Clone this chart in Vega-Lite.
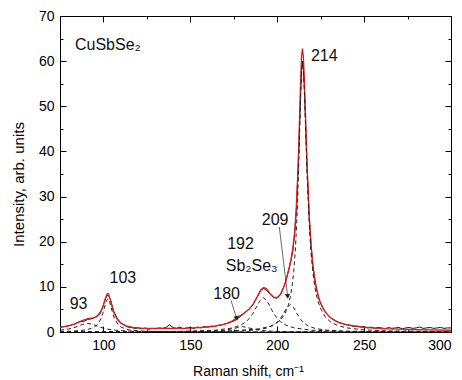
{
  "$schema": "https://vega.github.io/schema/vega-lite/v6.json",
  "autosize": "none",
  "padding": {"left": 60, "top": 16, "right": 11, "bottom": 48},
  "width": 391,
  "height": 316,
  "background": "white",
  "config": {
    "view": {"stroke": "#000", "strokeWidth": 1},
    "font": "Liberation Sans",
    "axis": {"grid": false, "domainColor": "#000", "tickColor": "#000", "labelColor": "#000", "titleColor": "#000", "labelFont": "Liberation Sans", "titleFont": "Liberation Sans", "labelFontSize": 14, "titleFontSize": 14, "titleFontWeight": "normal"}
  },
  "datasets": {
    "meas": [
      {"x":75,"y":1.0},{"x":77,"y":1.2},{"x":79,"y":1.3},{"x":81,"y":1.5},{"x":83,"y":1.7},{"x":85,"y":2.1},{"x":87,"y":2.3},{"x":89,"y":2.4},{"x":91,"y":2.8},{"x":93,"y":2.9},{"x":95,"y":3.2},{"x":97,"y":3.8},{"x":99,"y":5.0},{"x":100,"y":6.0},{"x":101,"y":7.2},{"x":102,"y":8.1},{"x":103,"y":8.0},{"x":104,"y":7.2},{"x":105,"y":5.8},{"x":106,"y":4.5},{"x":108,"y":3.0},{"x":110,"y":2.0},{"x":112,"y":1.5},{"x":114,"y":1.1},{"x":116,"y":1.0},{"x":118,"y":0.8},{"x":120,"y":0.9},{"x":122,"y":0.7},{"x":124,"y":0.9},{"x":126,"y":0.6},{"x":128,"y":0.8},{"x":130,"y":0.7},{"x":132,"y":0.9},{"x":134,"y":0.8},{"x":136,"y":1.0},{"x":138,"y":1.6},{"x":140,"y":1.0},{"x":142,"y":0.8},{"x":144,"y":1.1},{"x":146,"y":0.7},{"x":148,"y":0.9},{"x":150,"y":1.0},{"x":152,"y":0.8},{"x":154,"y":1.1},{"x":156,"y":0.9},{"x":158,"y":1.2},{"x":160,"y":1.1},{"x":162,"y":1.3},{"x":164,"y":1.2},{"x":166,"y":1.5},{"x":168,"y":1.6},{"x":170,"y":1.8},{"x":172,"y":2.0},{"x":174,"y":2.3},{"x":176,"y":2.6},{"x":178,"y":3.2},{"x":180,"y":3.8},{"x":182,"y":4.5},{"x":184,"y":5.2},{"x":186,"y":6.0},{"x":188,"y":7.4},{"x":190,"y":8.8},{"x":191,"y":9.4},{"x":192,"y":9.6},{"x":193,"y":9.5},{"x":194,"y":9.2},{"x":196,"y":8.3},{"x":198,"y":7.6},{"x":200,"y":7.5},{"x":202,"y":8.3},{"x":204,"y":10.2},{"x":205,"y":11.3},{"x":206,"y":12.8},{"x":207,"y":14.2},{"x":208,"y":16.0},{"x":209,"y":18.0},{"x":210,"y":21.5},{"x":211,"y":27.0},{"x":212,"y":35.5},{"x":212.5,"y":41.0},{"x":213,"y":47.5},{"x":213.5,"y":53.0},{"x":214,"y":58.0},{"x":214.5,"y":60.0},{"x":215,"y":58.5},{"x":215.5,"y":55.0},{"x":216,"y":50.0},{"x":216.5,"y":44.0},{"x":217,"y":38.5},{"x":217.5,"y":33.5},{"x":218.5,"y":25.0},{"x":219.5,"y":19.0},{"x":220.5,"y":14.8},{"x":221.5,"y":12.0},{"x":222.5,"y":9.8},{"x":224,"y":7.3},{"x":226,"y":5.4},{"x":228,"y":4.3},{"x":230,"y":3.4},{"x":232,"y":2.8},{"x":234,"y":2.4},{"x":236,"y":2.0},{"x":238,"y":1.8},{"x":240,"y":1.6},{"x":242,"y":1.5},{"x":244,"y":1.2},{"x":246,"y":1.3},{"x":248,"y":1.1},{"x":250,"y":1.2},{"x":252,"y":0.9},{"x":254,"y":1.1},{"x":256,"y":0.8},{"x":258,"y":1.0},{"x":260,"y":0.9},{"x":262,"y":0.7},{"x":264,"y":1.0},{"x":266,"y":0.8},{"x":268,"y":0.9},{"x":270,"y":1.0},{"x":272,"y":0.7},{"x":274,"y":0.9},{"x":276,"y":1.0},{"x":278,"y":0.8},{"x":280,"y":0.9},{"x":282,"y":1.1},{"x":284,"y":0.8},{"x":286,"y":0.9},{"x":288,"y":1.0},{"x":290,"y":0.8},{"x":292,"y":0.9},{"x":294,"y":1.0},{"x":296,"y":0.8},{"x":298,"y":0.9},{"x":300,"y":0.9}
    ],
    "fit": [
      {"x":75,"y":1.04},{"x":80,"y":1.35},{"x":84,"y":1.84},{"x":88,"y":2.56},{"x":91,"y":2.97},{"x":94,"y":3.13},{"x":96,"y":3.35},{"x":98,"y":4.10},{"x":99,"y":4.85},{"x":100,"y":6.0},{"x":101,"y":7.34},{"x":102,"y":8.41},{"x":102.5,"y":8.55},{"x":103,"y":8.33},{"x":104,"y":7.12},{"x":105,"y":5.60},{"x":106,"y":4.32},{"x":108,"y":2.73},{"x":110,"y":1.96},{"x":113,"y":1.38},{"x":117,"y":1.03},{"x":122,"y":0.84},{"x":130,"y":0.81},{"x":140,"y":0.80},{"x":150,"y":0.88},{"x":160,"y":1.11},{"x":165,"y":1.34},{"x":170,"y":1.77},{"x":174,"y":2.41},{"x":178,"y":3.4},{"x":181,"y":4.2},{"x":184,"y":5.11},{"x":186,"y":6.10},{"x":188,"y":7.49},{"x":190,"y":9.0},{"x":191,"y":9.55},{"x":192,"y":9.83},{"x":193,"y":9.78},{"x":194,"y":9.48},{"x":196,"y":8.46},{"x":198,"y":7.70},{"x":200,"y":7.65},{"x":202,"y":8.45},{"x":204,"y":10.2},{"x":205,"y":11.5},{"x":206,"y":12.9},{"x":207,"y":14.5},{"x":208,"y":16.3},{"x":209,"y":18.6},{"x":210,"y":22.1},{"x":211,"y":27.7},{"x":212,"y":36.8},{"x":212.5,"y":42.8},{"x":213,"y":49.6},{"x":213.5,"y":56.1},{"x":214,"y":61.1},{"x":214.5,"y":62.8},{"x":215,"y":61.2},{"x":215.5,"y":57.1},{"x":216,"y":51.5},{"x":216.5,"y":45.4},{"x":217,"y":39.3},{"x":217.5,"y":34.0},{"x":218.5,"y":25.3},{"x":219.5,"y":19.2},{"x":220.5,"y":14.9},{"x":221.5,"y":11.9},{"x":222.5,"y":9.66},{"x":224.5,"y":6.78},{"x":227.5,"y":4.47},{"x":230.5,"y":3.2},{"x":234.5,"y":2.26},{"x":239.5,"y":1.62},{"x":249.5,"y":1.05},{"x":264.5,"y":0.70},{"x":280,"y":0.51},{"x":300,"y":0.39}
    ],
    "comp": [
      {"c":"93","x":75,"y":0.38},{"c":"93","x":80,"y":0.66},{"c":"93","x":84,"y":1.08},{"c":"93","x":88,"y":1.67},{"c":"93","x":91,"y":1.9},{"c":"93","x":94,"y":1.67},{"c":"93","x":98,"y":1.08},{"c":"93","x":102,"y":0.66},{"c":"93","x":107,"y":0.38},{"c":"93","x":115,"y":0.19},{"c":"93","x":130,"y":0.077},{"c":"93","x":160,"y":0.025},{"c":"93","x":220,"y":0.007},{"c":"93","x":300,"y":0.003},
      {"c":"103","x":75,"y":0.10},{"c":"103","x":82.5,"y":0.19},{"c":"103","x":90.5,"y":0.49},{"c":"103","x":94.5,"y":1.02},{"c":"103","x":96.5,"y":1.64},{"c":"103","x":98.5,"y":2.89},{"c":"103","x":99.5,"y":3.94},{"c":"103","x":100.5,"y":5.32},{"c":"103","x":101.5,"y":6.74},{"c":"103","x":102.5,"y":7.4},{"c":"103","x":103.5,"y":6.74},{"c":"103","x":104.5,"y":5.32},{"c":"103","x":105.5,"y":3.94},{"c":"103","x":106.5,"y":2.89},{"c":"103","x":108.5,"y":1.64},{"c":"103","x":110.5,"y":1.02},{"c":"103","x":114.5,"y":0.49},{"c":"103","x":122.5,"y":0.19},{"c":"103","x":140,"y":0.054},{"c":"103","x":180,"y":0.013},{"c":"103","x":300,"y":0.002},
      {"c":"180","x":75,"y":0.005},{"c":"180","x":130,"y":0.023},{"c":"180","x":155,"y":0.087},{"c":"180","x":165,"y":0.21},{"c":"180","x":170,"y":0.39},{"c":"180","x":175,"y":0.79},{"c":"180","x":180,"y":1.2},{"c":"180","x":185,"y":0.79},{"c":"180","x":190,"y":0.39},{"c":"180","x":195,"y":0.21},{"c":"180","x":205,"y":0.087},{"c":"180","x":230,"y":0.023},{"c":"180","x":300,"y":0.004},
      {"c":"192","x":75,"y":0.02},{"c":"192","x":144,"y":0.14},{"c":"192","x":164,"y":0.39},{"c":"192","x":174,"y":0.88},{"c":"192","x":179,"y":1.52},{"c":"192","x":182,"y":2.26},{"c":"192","x":184,"y":3.02},{"c":"192","x":186,"y":4.10},{"c":"192","x":188,"y":5.51},{"c":"192","x":190,"y":6.95},{"c":"192","x":192,"y":7.6},{"c":"192","x":194,"y":6.95},{"c":"192","x":196,"y":5.51},{"c":"192","x":198,"y":4.10},{"c":"192","x":200,"y":3.02},{"c":"192","x":202,"y":2.26},{"c":"192","x":205,"y":1.52},{"c":"192","x":210,"y":0.88},{"c":"192","x":220,"y":0.39},{"c":"192","x":240,"y":0.14},{"c":"192","x":300,"y":0.03},
      {"c":"209","x":75,"y":0.01},{"c":"209","x":157.5,"y":0.07},{"c":"209","x":177.5,"y":0.20},{"c":"209","x":187.5,"y":0.43},{"c":"209","x":193.5,"y":0.82},{"c":"209","x":197.5,"y":1.42},{"c":"209","x":199.5,"y":1.96},{"c":"209","x":201.5,"y":2.79},{"c":"209","x":203.5,"y":3.99},{"c":"209","x":205.5,"y":5.39},{"c":"209","x":207.5,"y":6.1},{"c":"209","x":209.5,"y":5.39},{"c":"209","x":211.5,"y":3.99},{"c":"209","x":213.5,"y":2.79},{"c":"209","x":215.5,"y":1.96},{"c":"209","x":217.5,"y":1.42},{"c":"209","x":221.5,"y":0.82},{"c":"209","x":227.5,"y":0.43},{"c":"209","x":237.5,"y":0.20},{"c":"209","x":257.5,"y":0.07},{"c":"209","x":300,"y":0.02},
      {"c":"214","x":75,"y":0.02},{"c":"214","x":144.5,"y":0.09},{"c":"214","x":174.5,"y":0.27},{"c":"214","x":189.5,"y":0.69},{"c":"214","x":196.5,"y":1.31},{"c":"214","x":201.5,"y":2.46},{"c":"214","x":204.5,"y":4.05},{"c":"214","x":206.5,"y":6.08},{"c":"214","x":207.5,"y":7.71},{"c":"214","x":208.5,"y":10.0},{"c":"214","x":209.5,"y":13.4},{"c":"214","x":210.5,"y":18.6},{"c":"214","x":211.5,"y":26.6},{"c":"214","x":212,"y":32.0},{"c":"214","x":212.5,"y":38.4},{"c":"214","x":213,"y":45.5},{"c":"214","x":213.5,"y":52.3},{"c":"214","x":214,"y":57.5},{"c":"214","x":214.5,"y":59.5},{"c":"214","x":215,"y":58.1},{"c":"214","x":215.5,"y":54.2},{"c":"214","x":216,"y":48.8},{"c":"214","x":216.5,"y":42.8},{"c":"214","x":217,"y":36.9},{"c":"214","x":217.5,"y":31.7},{"c":"214","x":218.5,"y":23.2},{"c":"214","x":219.5,"y":17.3},{"c":"214","x":220.5,"y":13.2},{"c":"214","x":221.5,"y":10.3},{"c":"214","x":222.5,"y":8.21},{"c":"214","x":224.5,"y":5.52},{"c":"214","x":227.5,"y":3.40},{"c":"214","x":230.5,"y":2.29},{"c":"214","x":234.5,"y":1.48},{"c":"214","x":239.5,"y":0.94},{"c":"214","x":249.5,"y":0.49},{"c":"214","x":264.5,"y":0.24},{"c":"214","x":300,"y":0.08}
    ],
    "labels": [
      {"t":"CuSbSe₂","x":83.6,"y":63.5,"a":"left"},
      {"t":"214","x":219.4,"y":61.2,"a":"left"},
      {"t":"209","x":198.8,"y":24.9,"a":"center"},
      {"t":"192","x":178.9,"y":19.4,"a":"center"},
      {"t":"Sb₂Se₃","x":185.3,"y":14.6,"a":"center"},
      {"t":"180","x":170.9,"y":8.5,"a":"center"},
      {"t":"103","x":111.2,"y":12.0,"a":"center"},
      {"t":"93","x":85.7,"y":6.1,"a":"center"}
    ],
    "arrows": [
      {"id":"209","x":201.2,"y":23.3,"x2":206.0,"y2":7.9},
      {"id":"180","x":173.4,"y":7.0,"x2":176.7,"y2":3.0}
    ]
  },
  "resolve": {"axis": {"x": "independent", "y": "independent"}},
  "layer": [
    {
      "data": {"name": "meas"},
      "mark": {"type": "line", "color": "#111", "strokeWidth": 1, "clip": true},
      "encoding": {
        "x": {"field": "x", "type": "quantitative", "scale": {"domain": [75, 300], "nice": false, "zero": false},
          "axis": {"orient": "bottom", "values": [75,100,125,150,175,200,225,250,275,300], "labelExpr": "datum.value % 50 === 0 ? datum.label : ''", "tickSize": {"condition": {"test": "datum.value % 50 === 0", "value": -6}, "value": -3}, "labelPadding": 12, "title": "Raman shift, cm⁻¹", "titleX": 188, "titleY": 43, "titleBaseline": "alphabetic", "titleAlign": "center"}},
        "y": {"field": "y", "type": "quantitative", "scale": {"domain": [0, 70], "nice": false},
          "axis": {"orient": "left", "values": [0,5,10,15,20,25,30,35,40,45,50,55,60,65,70], "labelExpr": "datum.value % 10 === 0 ? datum.label : ''", "tickSize": {"condition": {"test": "datum.value % 10 === 0", "value": -6}, "value": -3}, "labelPadding": 12, "title": "Intensity, arb. units", "titleFontSize": 15, "titleX": -42, "titleY": 168, "titleAlign": "center", "titleBaseline": "middle"}}
      }
    },
    {
      "data": {"name": "fit"},
      "mark": {"type": "line", "color": "#e41a1c", "strokeWidth": 1.3, "clip": true},
      "encoding": {
        "x": {"field": "x", "type": "quantitative", "axis": {"orient": "top", "values": [75,100,125,150,175,200,225,250,275,300], "labels": false, "title": null, "tickSize": {"condition": {"test": "datum.value % 50 === 0", "value": -6}, "value": -3}}},
        "y": {"field": "y", "type": "quantitative", "axis": {"orient": "right", "values": [0,5,10,15,20,25,30,35,40,45,50,55,60,65,70], "labels": false, "title": null, "tickSize": {"condition": {"test": "datum.value % 10 === 0", "value": -6}, "value": -3}}}
      }
    },
    {
      "data": {"name": "comp"},
      "mark": {"type": "line", "color": "#222", "strokeWidth": 1, "strokeDash": [4, 3], "clip": true},
      "encoding": {
        "x": {"field": "x", "type": "quantitative", "axis": null},
        "y": {"field": "y", "type": "quantitative", "axis": null},
        "detail": {"field": "c"}
      }
    },
    {
      "data": {"name": "arrows"},
      "mark": {"type": "rule", "color": "#444", "strokeWidth": 0.8},
      "encoding": {
        "x": {"field": "x", "type": "quantitative", "axis": null},
        "y": {"field": "y", "type": "quantitative", "axis": null},
        "x2": {"field": "x2"},
        "y2": {"field": "y2"}
      }
    },
    {
      "data": {"name": "arrows"},
      "transform": [{"filter": "datum.id === '209'"}],
      "mark": {"type": "point", "shape": "triangle-down", "filled": true, "color": "#222", "size": 30, "angle": 353, "opacity": 1},
      "encoding": {
        "x": {"field": "x2", "type": "quantitative", "axis": null},
        "y": {"field": "y2", "type": "quantitative", "axis": null}
      }
    },
    {
      "data": {"name": "arrows"},
      "transform": [{"filter": "datum.id === '180'"}],
      "mark": {"type": "point", "shape": "triangle-down", "filled": true, "color": "#222", "size": 30, "angle": 345, "opacity": 1},
      "encoding": {
        "x": {"field": "x2", "type": "quantitative", "axis": null},
        "y": {"field": "y2", "type": "quantitative", "axis": null}
      }
    },
    {
      "data": {"name": "labels"},
      "transform": [{"filter": "datum.a === 'left'"}],
      "mark": {"type": "text", "font": "Liberation Sans", "fontSize": 16, "color": "#111", "baseline": "middle", "align": "left"},
      "encoding": {
        "x": {"field": "x", "type": "quantitative", "axis": null},
        "y": {"field": "y", "type": "quantitative", "axis": null},
        "text": {"field": "t"}
      }
    },
    {
      "data": {"name": "labels"},
      "transform": [{"filter": "datum.a === 'center'"}],
      "mark": {"type": "text", "font": "Liberation Sans", "fontSize": 16, "color": "#111", "baseline": "middle", "align": "center"},
      "encoding": {
        "x": {"field": "x", "type": "quantitative", "axis": null},
        "y": {"field": "y", "type": "quantitative", "axis": null},
        "text": {"field": "t"}
      }
    }
  ]
}
